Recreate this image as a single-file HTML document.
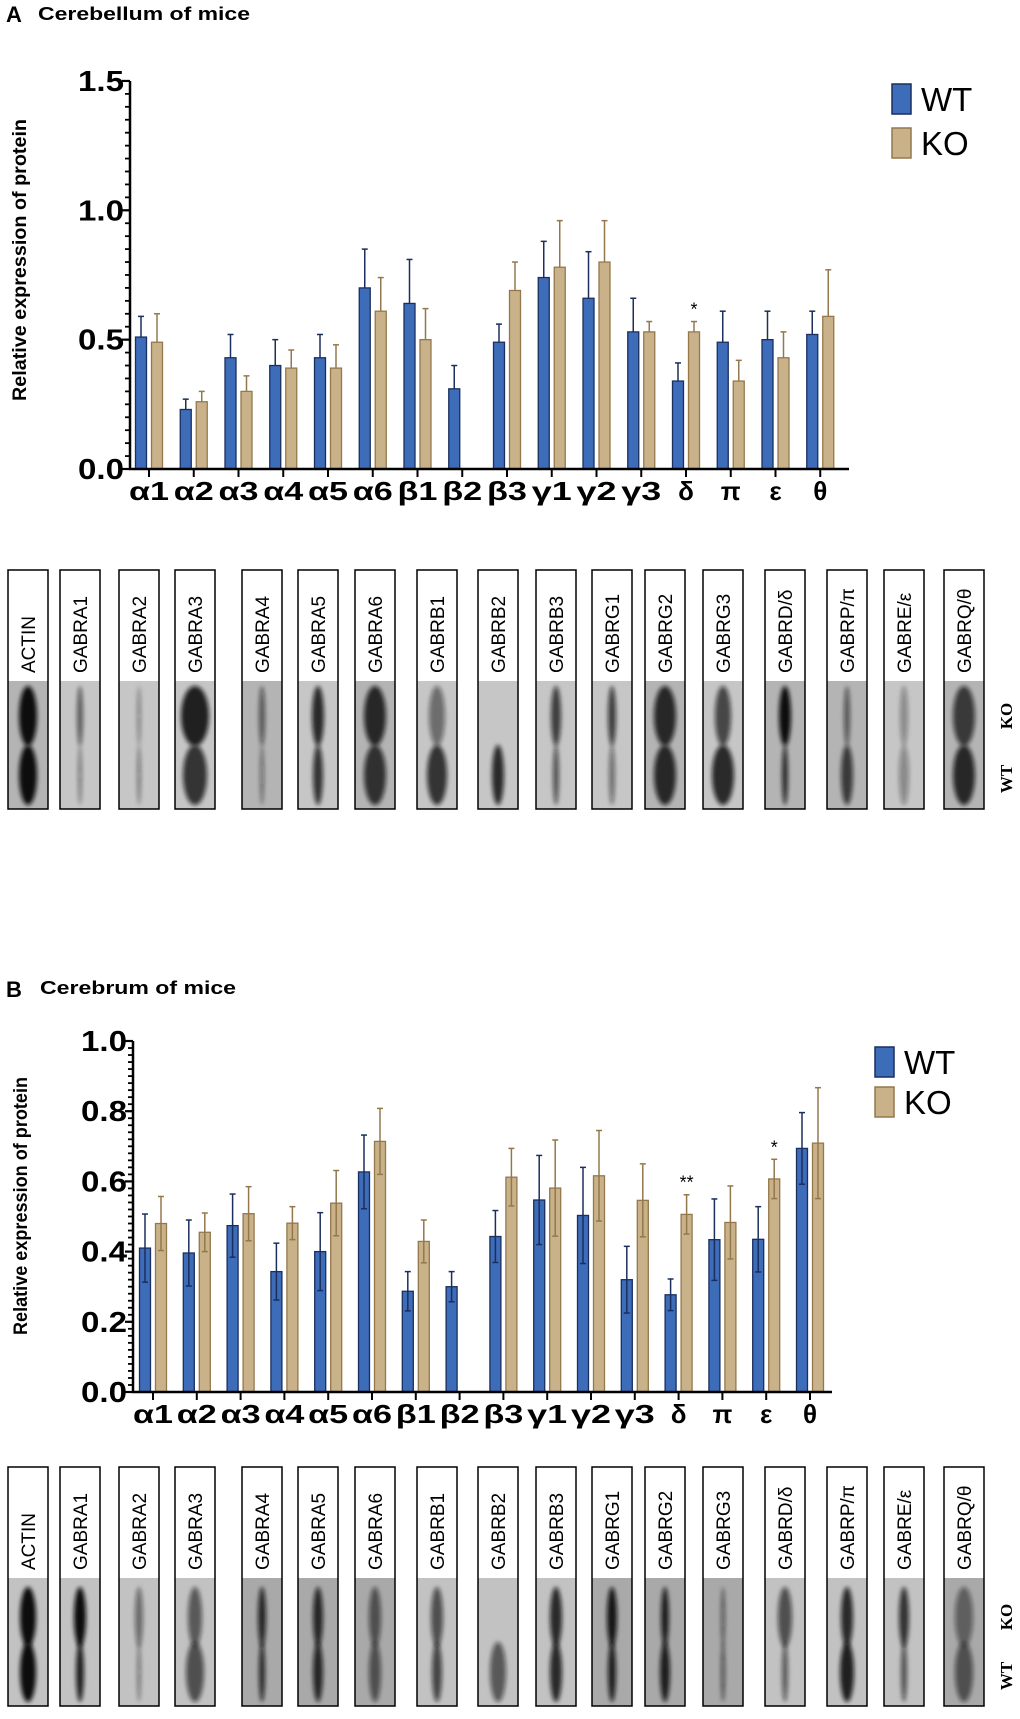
<!DOCTYPE html>
<html><head><meta charset="utf-8">
<style>
html,body{margin:0;padding:0;background:#fff;}
svg{display:block;font-family:"Liberation Sans",sans-serif;}
</style></head>
<body>
<svg id="fig" width="1020" height="1719" viewBox="0 0 1020 1719" xmlns="http://www.w3.org/2000/svg">
<defs>
<filter id="blur" x="-100%" y="-50%" width="300%" height="200%"><feGaussianBlur stdDeviation="2.2"/></filter>
</defs>
<text x="6" y="22" font-size="22" font-weight="bold">A</text>
<text x="38" y="20" font-size="18" font-weight="bold" textLength="212" lengthAdjust="spacingAndGlyphs">Cerebellum of mice</text>
<text x="6" y="997" font-size="22" font-weight="bold">B</text>
<text x="40" y="994" font-size="18" font-weight="bold" textLength="196" lengthAdjust="spacingAndGlyphs">Cerebrum of mice</text>
<g id="chartA"></g>
<g id="chartB"></g>
<g id="blotA"></g>
<g id="blotB"></g>
</svg>
<script>
const NS="http://www.w3.org/2000/svg";
const categories=["α1","α2","α3","α4","α5","α6","β1","β2","β3","γ1","γ2","γ3","δ","π","ε","θ"];
// Panel A (cerebellum)
const wtA=[0.51,0.23,0.43,0.40,0.43,0.70,0.64,0.31,0.49,0.74,0.66,0.53,0.34,0.49,0.50,0.52];
const wtAErr=[0.08,0.04,0.09,0.10,0.09,0.15,0.17,0.09,0.07,0.14,0.18,0.13,0.07,0.12,0.11,0.09];
const koA=[0.49,0.26,0.30,0.39,0.39,0.61,0.50,null,0.69,0.78,0.80,0.53,0.53,0.34,0.43,0.59];
const koAErr=[0.11,0.04,0.06,0.07,0.09,0.13,0.12,null,0.11,0.18,0.16,0.04,0.04,0.08,0.10,0.18];
const sigA=["","","","","","","","","","","","","*","","",""];
const ticksA=["0.0","0.5","1.0","1.5"];
// Panel B (cerebrum)
const wtB=[0.41,0.396,0.474,0.343,0.40,0.627,0.287,0.30,0.443,0.547,0.503,0.32,0.277,0.434,0.435,0.694];
const wtBErr=[0.097,0.094,0.09,0.081,0.111,0.105,0.056,0.043,0.074,0.127,0.137,0.095,0.045,0.116,0.093,0.102];
const koB=[0.48,0.455,0.508,0.481,0.538,0.714,0.429,null,0.612,0.581,0.616,0.546,0.506,0.483,0.607,0.709];
const koBErr=[0.077,0.055,0.077,0.047,0.093,0.094,0.061,null,0.082,0.137,0.129,0.104,0.056,0.104,0.056,0.158];
const sigB=["","","","","","","","","","","","","**","","*",""];
const ticksB=["0.0","0.2","0.4","0.6","0.8","1.0"];
const blotNames=["ACTIN","GABRA1","GABRA2","GABRA3","GABRA4","GABRA5","GABRA6","GABRB1","GABRB2","GABRB3","GABRG1","GABRG2","GABRG3","GABRD/δ","GABRP/π","GABRE/ε","GABRQ/θ"];

function el(tag,attrs,parent){const e=document.createElementNS(NS,tag);for(const k in attrs)e.setAttribute(k,attrs[k]);parent.appendChild(e);return e;}

function drawChart(g,cfg){
  const y=v=>cfg.y0-v*cfg.ppu;
  const x=i=>cfg.cx0+i*cfg.step;
  for(let i=0;i<categories.length;i++){
    const series=[[cfg.wt[i],cfg.wtErr[i],-8,"#3d6cb9","#1b2f5e","wt"],[cfg.ko[i],cfg.koErr[i],8,"#c9b28a","#94784c","ko"]];
    series.forEach(s=>{
      if(s[0]===null)return;
      const cx=x(i)+s[2];
      const r=el("rect",{x:cx-5.5,y:y(s[0]),width:11,height:y(0)-y(s[0]),fill:s[3],stroke:s[4],"stroke-width":1.3},g);
      
      
      const top=y(s[0]+s[1]);
      const bot=cfg.twoSided?y(s[0]-s[1]):y(s[0]);
      const l=el("line",{x1:cx,x2:cx,y1:top,y2:bot,stroke:s[4],"stroke-width":1.5},g);
      
      
      el("line",{x1:cx-3,x2:cx+3,y1:top,y2:top,stroke:s[4],"stroke-width":1.5},g);
      if(cfg.twoSided)el("line",{x1:cx-3,x2:cx+3,y1:bot,y2:bot,stroke:s[4],"stroke-width":1.5},g);
    });
    if(cfg.sig[i]){
      const t=el("text",{x:x(i)+8,y:y(cfg.ko[i]+cfg.koErr[i])-6,"font-size":18,"text-anchor":"middle"},g);
      t.textContent=cfg.sig[i];
      
      
    }
    el("line",{x1:x(i),x2:x(i),y1:y(0),y2:y(0)+8,stroke:"#000","stroke-width":2},g);
    const la={x:x(i),y:cfg.labY,"font-size":26,"font-weight":"bold","text-anchor":"middle"};
    if(categories[i].length>1){la.textLength=40;la.lengthAdjust="spacingAndGlyphs";}
    const lt=el("text",la,g);
    lt.textContent=categories[i];
    
    
  }
  const ax=el("line",{x1:cfg.ax,x2:cfg.ax,y1:y(cfg.max),y2:y(0),stroke:"#000","stroke-width":2.5},g);
  
  
  const xa=el("line",{x1:cfg.ax-1,x2:cfg.axEnd,y1:y(0),y2:y(0),stroke:"#000","stroke-width":2.5},g);
  
  
  const nMinor=Math.round(cfg.max/cfg.minor);
  for(let k=0;k<=nMinor;k++){const v=k*cfg.minor;el("line",{x1:cfg.ax-5,x2:cfg.ax,y1:y(v),y2:y(v),stroke:"#000","stroke-width":1.8},g);}
  cfg.ticks.forEach(t=>{
    const v=parseFloat(t);
    el("line",{x1:cfg.ax-8,x2:cfg.ax,y1:y(v),y2:y(v),stroke:"#000","stroke-width":2.2},g);
    const tt=el("text",{x:cfg.ax-6,y:y(v)+10,"font-size":29,"font-weight":"bold","text-anchor":"end",textLength:46,lengthAdjust:"spacingAndGlyphs"},g);
    tt.textContent=t;
    
    
  });
  const yt=el("text",{x:0,y:0,"font-size":19,"font-weight":"bold","text-anchor":"middle",transform:`translate(${cfg.titleX},${cfg.titleY}) rotate(-90)`,textLength:cfg.titleLen,lengthAdjust:"spacingAndGlyphs"},g);
  yt.textContent="Relative expression of protein";
  
  
  [["WT","#3d6cb9","#1b2f5e",cfg.legY],["KO","#c9b28a","#94784c",cfg.legY+cfg.legGap]].forEach(L=>{
    const r=el("rect",{x:cfg.legX,y:L[3],width:19,height:30,fill:L[1],stroke:L[2],"stroke-width":1.5},g);
    
    
    const t=el("text",{x:cfg.legX+29,y:L[3]+27,"font-size":33},g);
    t.textContent=L[0];
    
    
  });
}
drawChart(document.getElementById("chartA"),{wt:wtA,wtErr:wtAErr,ko:koA,koErr:koAErr,sig:sigA,ticks:ticksA,twoSided:false,
  y0:469,ppu:258.7,cx0:149,step:44.75,ax:130,axEnd:849,max:1.5,minor:0.05,labY:500,titleX:26,titleY:260,titleLen:282,legX:892,legY:84,legGap:44});
drawChart(document.getElementById("chartB"),{wt:wtB,wtErr:wtBErr,ko:koB,koErr:koBErr,sig:sigB,ticks:ticksB,twoSided:true,
  y0:1392,ppu:351,cx0:153,step:43.8,ax:133,axEnd:832,max:1.0,minor:0.02,labY:1423,titleX:27,titleY:1206,titleLen:258,legX:875,legY:1047,legGap:40});

const stripX=[8,60,119,175,242,298,355,417,478,536,592,645,703,765,827,884,944];
const bandsA=[[9,1,9,1],[3,.6,2,.4],[2,.35,2,.4],[14,.9,12,.8],[3,.6,2,.45],[6,.85,5,.8],[11,.85,11,.8],[8,.5,10,.8],[0,0,6,.85],[5,.75,3,.65],[4,.75,3,.5],[11,.85,11,.85],[8,.7,11,.85],[6,1,3,.85],[3,.6,6,.75],[4,.35,5,.35],[11,.75,11,.85]];
const bandsB=[[8,1,8,1],[6,1,4,.9],[4,.5,2,.4],[7,.6,9,.65],[4,.85,3,.85],[5,.85,5,.85],[6,.6,6,.6],[6,.65,5,.7],[0,0,8,.6],[6,.85,6,.85],[5,.95,4,.9],[4,.9,5,.9],[2,.55,2,.6],[7,.65,3,.6],[6,.85,7,.9],[5,.8,3,.65],[9,.5,9,.6]];
function drawBlot(g,top,grayTop,bottom,koY,wtY,bands,bg,tag){
  stripX.forEach((sx,i)=>{
    const w=40;
    const grp=el("g",{},g);
    
    
    el("rect",{x:sx,y:top,width:w,height:grayTop-top,fill:"#fff"},grp);
    el("rect",{x:sx,y:grayTop,width:w,height:bottom-grayTop,fill:bg[i]},grp);
    const b=bands[i];
    if(b[0]>0)el("ellipse",{cx:sx+w/2,cy:koY,rx:b[0],ry:30,fill:"#111","fill-opacity":b[1],filter:"url(#blur)"},grp);
    el("ellipse",{cx:sx+w/2,cy:wtY,rx:b[2],ry:30,fill:"#111","fill-opacity":b[3],filter:"url(#blur)"},grp);
    el("rect",{x:sx,y:top,width:w,height:bottom-top,fill:"none",stroke:"#000","stroke-width":1.5},grp);
    const t=el("text",{x:0,y:0,"font-size":19,transform:`translate(${sx+w/2+7},${grayTop-8}) rotate(-90)`},grp);
    t.textContent=blotNames[i];
  });
  const ko=el("text",{x:0,y:0,"font-size":17,"font-weight":"bold","font-family":"Liberation Serif, serif","text-anchor":"middle",transform:`translate(${1012},${koY}) rotate(-90)`},g);
  ko.textContent="KO";
  
  
  const wt=el("text",{x:0,y:0,"font-size":17,"font-weight":"bold","font-family":"Liberation Serif, serif","text-anchor":"middle",transform:`translate(${1012},${wtY+4}) rotate(-90)`},g);
  wt.textContent="WT";
  
  
}
const bgA=stripX.map((_,i)=>[0,4,6,11,13,14,16].includes(i)?"#b4b4b4":"#c6c6c6");
const bgB=stripX.map((_,i)=>[4,5,6,10,11,12,16].includes(i)?"#a9a9a9":"#c2c2c2");
drawBlot(document.getElementById("blotA"),570,681,809,716,775,bandsA,bgA,"blot-a");
drawBlot(document.getElementById("blotB"),1467,1578,1706,1617,1672,bandsB,bgB,"blot-b");
</script>
</body></html>
